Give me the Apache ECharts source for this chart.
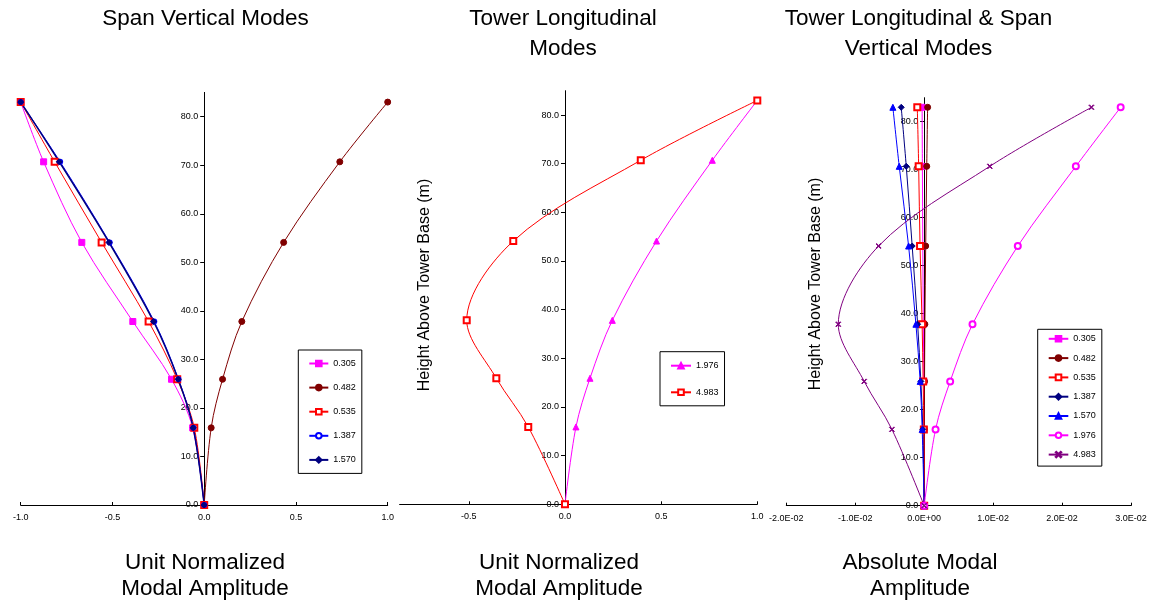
<!DOCTYPE html>
<html>
<head>
<meta charset="utf-8">
<script src="https://cdn.jsdelivr.net/npm/echarts@6/dist/echarts.min.js"></script>
<style>
  html, body { margin: 0; padding: 0; background: #fff; }
  #chart { width: 1151px; height: 600px; }
</style>
</head>
<body>
<div id="chart"></div>
<script>
// Heights of the measured stations above the tower base (m)
const heights = [0.0, 15.9, 25.9, 37.8, 54.1, 70.7, 83.0];
const yTickValues = [0, 10, 20, 30, 40, 50, 60, 70, 80];
const towerXTicks = [-0.5, 0, 0.5, 1.0];

// Span vertical modes (unit normalized)
const span0305 = [0, -0.063, -0.178, -0.389, -0.667, -0.875, -1.0];
const span0482 = [0, 0.038, 0.100, 0.205, 0.433, 0.739, 1.0];
const span0535 = [0, -0.054, -0.147, -0.303, -0.559, -0.815, -1.0];
const span1387 = [0, -0.059, -0.140, -0.272, -0.515, -0.785, -1.0];
const span1570 = [0, -0.060, -0.142, -0.276, -0.519, -0.790, -1.0];

// Tower longitudinal modes (unit normalized)
const tower1976 = [0, 0.057, 0.130, 0.246, 0.476, 0.766, 1.0];
const tower4983 = [0, -0.191, -0.357, -0.511, -0.269, 0.394, 1.0];

// All modes, absolute amplitude
const abs0305 = [0, -0.00002, -0.00005, -0.00012, -0.0002, -0.00026, -0.0003];
const abs0482 = [0, 0.00002, 0.00005, 0.0001, 0.00022, 0.00037, 0.0005];
const abs0535 = [0, -0.00005, -0.00015, -0.0003, -0.0006, -0.0008, -0.001];
const abs1387 = [0, -0.0002, -0.00048, -0.00095, -0.00174, -0.0026, -0.00333];
const abs1570 = [0, -0.00029, -0.00058, -0.0012, -0.00226, -0.00362, -0.00454];
const abs1976 = [0, 0.00165, 0.00377, 0.00701, 0.01358, 0.0220, 0.0285];
const abs4983 = [0, -0.00468, -0.0087, -0.01246, -0.00661, 0.00952, 0.02426];

const FONT = 'Arial, "Liberation Sans", Helvetica, sans-serif';
const X_MARK = 'path://M0,1L1,0L5,4L9,0L10,1L6,5L10,9L9,10L5,6L1,10L0,9L4,5Z';

const C = {
  magenta: '#FF00FF', darkRed: '#800000', red: '#FF0000',
  blue: '#0000FF', navy: '#000080', purple: '#800080'
};

// plot rectangles and x ranges of the three panels
const panels = [
  { left: 20.7, top: 92.4, width: 367, height: 412.6, xMin: -1, xMax: 1 },
  { left: 399.6, top: 90.7, width: 357.7, height: 413.6, xMin: -0.86, xMax: 1 },
  { left: 786.3, top: 97.7, width: 344.7, height: 408, xMin: -0.02, xMax: 0.03 }
];

function pts(xs) { return xs.map((x, i) => [x, heights[i]]); }

// series names carry a "#panel" suffix so each legend keeps its own styling
function line(name, panel, xs, color, symbol, size, width) {
  return {
    type: 'line',
    name: name + '#' + panel,
    xAxisIndex: panel, yAxisIndex: panel,
    data: pts(xs),
    smooth: 0.33,
    symbol: symbol,
    symbolSize: size,
    showAllSymbol: true,
    lineStyle: { color: color, width: width || 1 },
    itemStyle: { color: color, borderColor: color, borderWidth: 1 },
    emphasis: { disabled: true },
    animation: false
  };
}

function sci(v) {
  if (Math.abs(v) < 1e-12) return '0.0E+00';
  const parts = v.toExponential(1).split('e');
  const e = parseInt(parts[1], 10);
  return parts[0] + 'E' + (e < 0 ? '-' : '+') + String(Math.abs(e)).padStart(2, '0');
}

const axisLabelBase = { fontSize: 9, color: '#000', fontFamily: FONT };

function xAxis(panel, interval, formatter, custom) {
  const p = panels[panel];
  const ax = {
    type: 'value', gridIndex: panel, min: p.xMin, max: p.xMax,
    axisLine: { show: true, onZero: true, lineStyle: { color: '#000', width: 1 } },
    axisTick: { show: true, inside: true, length: 3, lineStyle: { color: '#000' } },
    axisLabel: Object.assign({ margin: 8, formatter: formatter, showMinLabel: true, showMaxLabel: true }, axisLabelBase),
    splitLine: { show: false }
  };
  if (interval) ax.interval = interval;
  if (custom) { ax.axisTick.customValues = custom; ax.axisLabel.customValues = custom; }
  return ax;
}

// vertical axis drawn through x = 0, labels kept beside it
function yAxis(panel) {
  const p = panels[panel];
  const zeroOffset = p.width * (0 - p.xMin) / (p.xMax - p.xMin);
  return {
    type: 'value', gridIndex: panel, min: 0, max: 85,
    position: 'left', offset: -zeroOffset,
    axisLine: { show: true, onZero: false, lineStyle: { color: '#000', width: 1 } },
    axisTick: { show: true, inside: false, length: 4, customValues: yTickValues, lineStyle: { color: '#000' } },
    axisLabel: Object.assign({ margin: 6, customValues: yTickValues, formatter: v => v.toFixed(1) }, axisLabelBase),
    splitLine: { show: false }
  };
}

function legend(panel, names, left, top, padding, gap, itemWidth) {
  return {
    orient: 'vertical', left: left, top: top, padding: padding,
    itemGap: gap, itemWidth: itemWidth, itemHeight: 7,
    borderColor: '#000', borderWidth: 1, borderRadius: 0,
    backgroundColor: '#fff',
    selectedMode: false,
    textStyle: { fontSize: 9, color: '#000', fontFamily: FONT },
    formatter: n => n.split('#')[0],
    data: names.map(n => n + '#' + panel)
  };
}

function text(x, y, s, size, rot) {
  return {
    type: 'text', x: x, y: y, rotation: rot || 0,
    style: { text: s, fontSize: size, fontFamily: FONT, fill: '#000', align: 'center', verticalAlign: 'middle' }
  };
}

const option = {
  backgroundColor: '#fff',
  animation: false,
  grid: panels.map(p => ({ left: p.left, top: p.top, width: p.width, height: p.height })),
  xAxis: [
    xAxis(0, 0.5, v => v.toFixed(1)),
    xAxis(1, null, v => v.toFixed(1), towerXTicks),
    xAxis(2, 0.01, sci)
  ],
  yAxis: [yAxis(0), yAxis(1), yAxis(2)],
  legend: [
    legend(0, ['0.305', '0.482', '0.535', '1.387', '1.570'], 298.3, 350, [9, 6, 9, 10], 15.1, 19),
    legend(1, ['1.976', '4.983'], 660, 351.7, [9.5, 6, 9, 10], 17.6, 20),
    legend(2, ['0.305', '0.482', '0.535', '1.387', '1.570', '1.976', '4.983'], 1037.7, 329.3, [5, 6, 7, 10], 10.3, 19.6)
  ],
  series: [
    line('0.305', 0, span0305, C.magenta, 'rect', 6),
    line('0.482', 0, span0482, C.darkRed, 'circle', 6),
    line('0.535', 0, span0535, C.red, 'emptyRect', 6),
    line('1.387', 0, span1387, C.blue, 'emptyCircle', 4),
    line('1.570', 0, span1570, C.navy, 'diamond', 6, 1.5),

    line('1.976', 1, tower1976, C.magenta, 'triangle', 6),
    line('4.983', 1, tower4983, C.red, 'emptyRect', 6),

    line('0.305', 2, abs0305, C.magenta, 'rect', 6),
    line('0.482', 2, abs0482, C.darkRed, 'circle', 6),
    line('0.535', 2, abs0535, C.red, 'emptyRect', 6),
    line('1.387', 2, abs1387, C.navy, 'diamond', 6),
    line('1.570', 2, abs1570, C.blue, 'triangle', 6),
    line('1.976', 2, abs1976, C.magenta, 'emptyCircle', 6),
    line('4.983', 2, abs4983, C.purple, X_MARK, 5)
  ],
  graphic: [
    text(205.5, 18.7, 'Span Vertical Modes', 22.5),
    text(563, 18.7, 'Tower Longitudinal', 22.5),
    text(563, 49, 'Modes', 22.5),
    text(918.5, 18.7, 'Tower Longitudinal & Span', 22.5),
    text(918.5, 49, 'Vertical Modes', 22.5),

    text(205, 562.9, 'Unit Normalized', 22.5),
    text(205, 589.2, 'Modal Amplitude', 22.5),
    text(559, 562.9, 'Unit Normalized', 22.5),
    text(559, 589.2, 'Modal Amplitude', 22.5),
    text(920, 562.9, 'Absolute Modal', 22.5),
    text(920, 589.2, 'Amplitude', 22.5),

    text(425, 285, 'Height Above Tower Base (m)', 16, Math.PI / 2),
    text(816, 284, 'Height Above Tower Base (m)', 16, Math.PI / 2)
  ]
};

const chart = echarts.init(document.getElementById('chart'), null, { renderer: 'canvas' });
chart.setOption(option);
</script>
</body>
</html>
